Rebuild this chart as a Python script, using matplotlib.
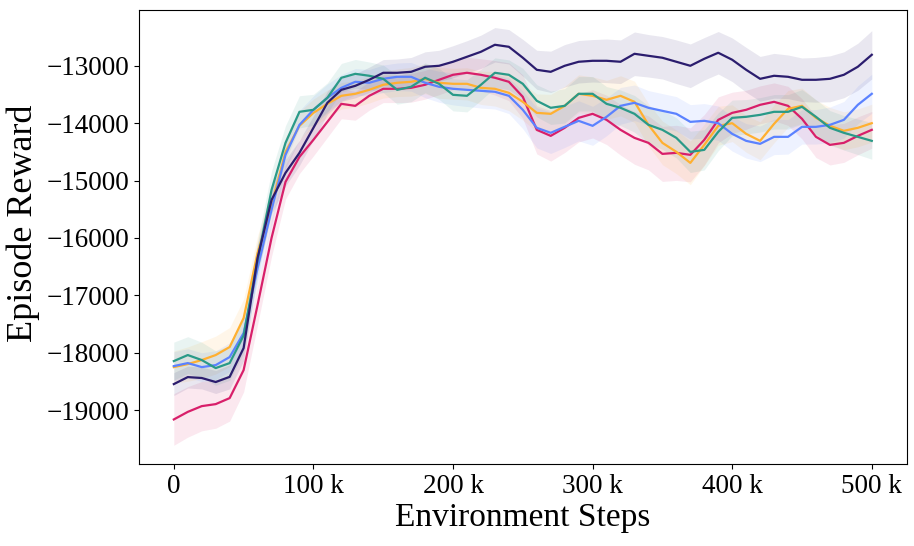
import numpy as np
import matplotlib.pyplot as plt
from matplotlib.ticker import EngFormatter

plt.rcParams['font.family'] = ['Liberation Serif', 'DejaVu Serif']

steps = np.arange(0, 510000, 10000)

navy = [-18546, -18424, -18440, -18510, -18420, -17918, -16348, -15337, -14866, -14517,
        -14081, -13645, -13419, -13349, -13244, -13122, -13122, -13105, -13017, -13000,
        -12930, -12843, -12756, -12634, -12669, -12860, -13070, -13105, -13000, -12930,
        -12913, -12913, -12930, -12791, -12826, -12860, -12930, -13000, -12878, -12773,
        -12895, -13070, -13227, -13174, -13192, -13244, -13244, -13227, -13157, -13017,
        -12808]
pink = [-19162, -19030, -18930, -18895, -18790, -18302, -17168, -16000, -15023, -14587,
        -14290, -13977, -13663, -13698, -13523, -13401, -13401, -13384, -13331, -13244,
        -13157, -13122, -13157, -13209, -13279, -13541, -14116, -14221, -14081, -13907,
        -13837, -13942, -14116, -14256, -14343, -14535, -14517, -14552, -14290, -13942,
        -13820, -13767, -13680, -13628, -13698, -13924, -14238, -14378, -14343, -14221,
        -14116]
teal = [-18145, -18040, -18127, -18267, -18180, -17700, -16383, -15163, -14343, -13802,
        -13767, -13558, -13209, -13140, -13174, -13227, -13419, -13366, -13209, -13314,
        -13506, -13523, -13331, -13122, -13157, -13314, -13610, -13732, -13698, -13488,
        -13488, -13663, -13732, -13837, -14029, -14116, -14256, -14500, -14465, -14151,
        -13907, -13889, -13855, -13802, -13802, -13715, -13889, -14081, -14168, -14238,
        -14308]
orange = [-18250, -18197, -18127, -18040, -17900, -17395, -16261, -15424, -14500, -14046,
          -13820, -13663, -13523, -13488, -13419, -13331, -13296, -13279, -13227, -13296,
          -13314, -13314, -13384, -13401, -13471, -13628, -13820, -13837, -13698, -13488,
          -13523, -13593, -13523, -13628, -14029, -14343, -14500, -14692, -14378, -14046,
          -14000, -14186, -14308, -14011, -13750, -13698, -13907, -14046, -14133, -14081,
          -14000]
blue = [-18232, -18180, -18250, -18215, -18075, -17656, -16523, -15511, -14552, -14029,
        -13767, -13558, -13384, -13279, -13296, -13227, -13192, -13192, -13296, -13366,
        -13401, -13419, -13436, -13453, -13523, -13767, -14081, -14168, -14063, -13959,
        -14046, -13889, -13698, -13645, -13732, -13785, -13837, -13977, -13959, -14000,
        -14186, -14308, -14360, -14238, -14238, -14064, -14064, -14029, -13942, -13680,
        -13488]

navy_std = [200, 190, 190, 200, 210, 220, 240, 240, 230, 220,
            210, 200, 200, 210, 220, 230, 240, 250, 260, 270,
            280, 280, 290, 300, 300, 320, 340, 360, 370, 370,
            370, 380, 380, 380, 370, 370, 380, 380, 370, 370,
            380, 390, 390, 390, 380, 380, 390, 400, 400, 410,
            420]
pink_std = [450, 440, 430, 420, 400, 380, 340, 320, 300, 290,
            280, 270, 260, 250, 250, 240, 240, 250, 250, 260,
            260, 270, 280, 300, 330, 380, 420, 440, 430, 420,
            420, 430, 440, 460, 470, 480, 480, 470, 440, 400,
            360, 340, 330, 330, 340, 350, 360, 350, 340, 330,
            320]
teal_std = [330, 320, 310, 300, 300, 310, 330, 330, 300, 280,
            270, 260, 250, 250, 240, 240, 250, 260, 260, 270,
            280, 280, 270, 260, 260, 270, 280, 290, 300, 300,
            300, 300, 310, 320, 330, 340, 350, 360, 350, 330,
            310, 300, 300, 300, 300, 300, 300, 300, 300, 310,
            320]
orange_std = [280, 300, 320, 330, 340, 330, 300, 280, 260, 250,
              240, 240, 230, 230, 230, 230, 240, 250, 260, 270,
              270, 280, 290, 300, 310, 320, 330, 340, 340, 330,
              330, 340, 350, 360, 370, 380, 380, 380, 360, 340,
              320, 320, 330, 330, 320, 310, 310, 320, 330, 330,
              330]
blue_std = [250, 250, 250, 250, 250, 260, 270, 270, 260, 250,
            240, 240, 230, 230, 230, 240, 240, 250, 260, 270,
            280, 290, 300, 300, 310, 330, 350, 360, 360, 350,
            340, 330, 320, 310, 300, 300, 300, 300, 300, 300,
            300, 300, 310, 310, 300, 300, 300, 310, 320, 330,
            340]

series = [
    (pink, pink_std, '#d81f6a'),
    (orange, orange_std, '#ffb030'),
    (blue, blue_std, '#5b82ff'),
    (teal, teal_std, '#2a9a88'),
    (navy, navy_std, '#2b1d6e'),
]

fig = plt.figure(figsize=(9.14, 5.46), dpi=100)
ax = fig.add_axes([0.152, 0.150, 0.840, 0.832])

for mean, std, color in series:
    mean = np.array(mean)
    std = np.array(std)
    ax.fill_between(steps, mean - std, mean + std, color=color, alpha=0.1, linewidth=0)
    ax.plot(steps, mean, color=color, linewidth=1.6)

ax.set_xlim(-25000, 525000)
ax.set_ylim(-19940, -12025)
ax.set_xticks(np.arange(0, 510000, 100000))
ax.set_yticks(np.arange(-19000, -12500, 1000))
ax.xaxis.set_major_formatter(EngFormatter(sep=' '))
ax.tick_params(labelsize=19.5)
ax.set_xlabel('Environment Steps', fontsize=24, labelpad=3)
ax.set_ylabel('Episode Reward', fontsize=26, labelpad=5)
ax.yaxis.label.set_y(0.53)

fig.savefig('out.png', dpi=100)
